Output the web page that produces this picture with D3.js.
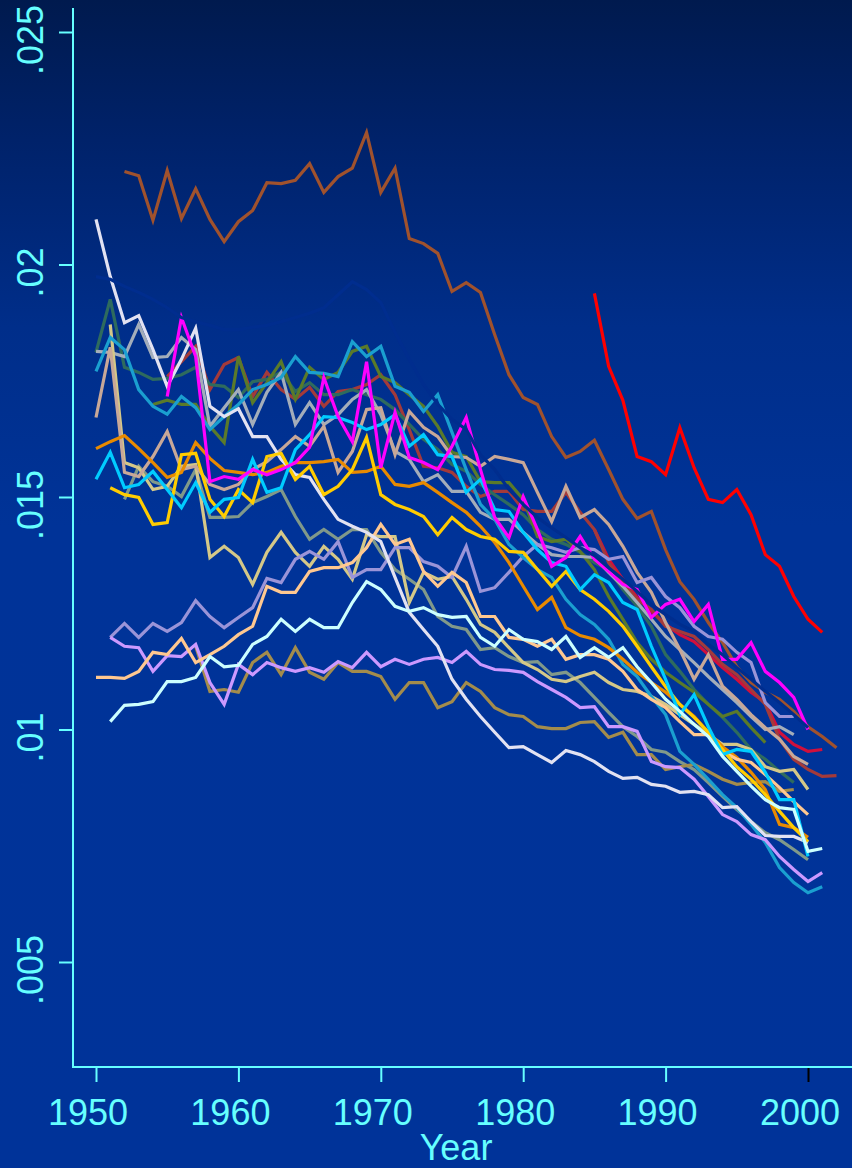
<!DOCTYPE html>
<html>
<head>
<meta charset="utf-8">
<script src="https://cdn.jsdelivr.net/npm/d3@7"></script>
<style>
  html, body { margin: 0; padding: 0; background: #003399; }
  svg { display: block; }
</style>
</head>
<body>
<svg id="chart" width="852" height="1168"></svg>
<script>
// ---- tick values and labels ----
const xTicks = [1950, 1960, 1970, 1980, 1990, 2000];
const yTicks = [0.005, 0.01, 0.015, 0.02, 0.025];
const yTickLabels = [".005", ".01", ".015", ".02", ".025"];

// ---- series: first year, then one value per year ----
const siennaStart = 1952;
const sienna = [
  .02200,.02191,.02095,.02202,.02099,.02163,.02097,.02049,
  .02092,.02116,.02176,.02174,.02181,.02217,.02155,.02189,.02207,.02284,
  .02155,.02207,.02056,.02045,.02024,.01942,.01961,.01940,.01849,.01763,
  .01714,.01699,.01630,.01585,.01598,.01622,.01559,.01495,.01454,.01469,
  .01387,.01318,.01280,.01230,.01187,.01135,.01101,.01080,.01065,.01039,
  .01006,.00985,.00961];

const redStart = 1985;
const red = [.01938,.01781,.01708,.01587,.01576,.01548,.01649,.01563,.01495,.01488,
  .01516,.01462,.01376,.01351,.01286,.01237,.01209];

const lavwhiteStart = 1950;
const lavwhite = [
  .02097,.01974,.01875,.01890,.01817,.01738,.01796,.01863,.01695,.01673,
  .01690,.01630,.01630,.01581,.01548,.01542,.01495,.01452,.01437,.01424,
  .01404,.01327,.01252,.01215,.01179,.01108,.01065,.01028,.00994,.00961,
  .00963,.00946,.00929,.00955,.00946,.00931,.00910,.00895,.00897,.00882,
  .00878,.00865,.00867,.00860,.00832,.00834,.00802,.00772,.00770,.00770,
  .00757];

const tanStart = 1950;
const tan = [
  .01671,.01822,.01553,.01544,.01587,.01641,.01559,.01566,.01527,.01516,
  .01527,.01559,.01576,.01602,.01630,.01609,.01652,.01553,.01598,.01688,
  .01692,.01591,.01684,.01650,.01630,.01587,.01585,.01566,.01587,.01581,
  .01574,.01510,.01447,.01523,.01456,.01473,.01441,.01394,.01338,.01295,
  .01230,.01172,.01108,.01161,.01093,.01065,.01032,.01004,.00979,.00942,
  .00925];

const magentaStart = 1955;
const magenta = [
  .01716,.01886,.01802,.01533,.01544,
  .01538,.01559,.01548,.01559,.01574,.01607,.01757,.01673,.01619,.01791,
  .01563,.01682,.01585,.01574,.01559,.01609,.01671,.01559,.01456,.01413,
  .01501,.01430,.01351,.01370,.01415,.01366,.01340,.01312,.01301,.01241,
  .01269,.01280,.01232,.01269,.01151,.01151,.01187,.01125,.01101,.01069,
  .01000];

const maroonStart = 1955;
const maroon = [
  .01759,.01791,.01824,.01731,.01785,
  .01800,.01716,.01768,.01731,.01710,.01736,.01695,.01727,.01731,.01742,
  .01763,.01720,.01645,.01566,.01563,.01553,.01523,.01501,.01512,.01512,
  .01473,.01469,.01469,.01510,.01467,.01430,.01359,.01316,.01280,.01258,
  .01222,.01211,.01200,.01172,.01140,.01118,.01086,.01054,.00979,.00936,
  .00914,.00899,.00901];

const crimsonStart = 1985;
const crimson = [.01430,.01366,.01323,.01284,.01254,.01226,.01204,.01189,.01161,.01133,
  .01108,.01080,.01058,.00994,.00968,.00953,.00957];

const slateGreenStart = 1950;
const slateGreen = [
  .01811,.01925,.01779,.01768,.01753,.01755,.01763,.01779,.01742,.01738,
  .01714,.01748,.01753,.01768,.01727,.01746,.01720,.01720,.01731,.01720,
  .01710,.01688,.01656,.01624,.01602,.01570,.01555,.01527,.01505,.01484,
  .01462,.01430,.01409,.01398,.01381,.01359,.01344,.01301,.01265,.01222,
  .01161,.01125,.01086,.01054,.01026,.00994,.00957,.00936,.00910,.00886];

const ceruleanStart = 1950;
const cerulean = [
  .01770,.01843,.01817,.01731,.01695,.01678,.01716,.01692,.01645,.01673,
  .01699,.01731,.01742,.01757,.01802,.01768,.01766,.01759,.01834,.01802,
  .01824,.01738,.01725,.01684,.01720,.01639,.01559,.01484,.01452,.01398,
  .01370,.01344,.01327,.01280,.01247,.01226,.01194,.01140,.01114,.01071,
  .01032,.00953,.00925,.00893,.00860,.00832,.00796,.00757,.00703,.00671,
  .00649,.00662];

const orangeStart = 1950;
const orange = [
  .01604,.01619,.01632,.01604,.01574,.01542,.01553,.01617,.01583,.01557,
  .01553,.01548,.01553,.01566,.01574,.01574,.01576,.01581,.01553,.01555,
  .01566,.01527,.01523,.01531,.01510,.01488,.01467,.01437,.01402,.01359,
  .01308,.01258,.01284,.01219,.01202,.01194,.01176,.01151,.01123,.01101,
  .01080,.01054,.01028,.00994,.00963,.00940,.00908,.00871,.00796,.00789,
  .00768];

const goldStart = 1951;
const gold = [
  .01520,.01505,.01499,.01441,.01445,.01591,.01594,.01495,.01458,
  .01516,.01488,.01587,.01594,.01538,.01566,.01505,.01523,.01559,.01628,
  .01505,.01484,.01473,.01458,.01419,.01456,.01430,.01415,.01409,.01383,
  .01381,.01344,.01308,.01340,.01301,.01280,.01254,.01222,.01179,.01135,
  .01092,.01054,.01026,.00994,.00957,.00920,.00893,.00860,.00824,.00789,
  .00759];

const skyStart = 1950;
const sky = [
  .01538,.01596,.01520,.01527,.01555,.01516,.01477,.01531,.01467,.01495,
  .01499,.01581,.01510,.01520,.01602,.01634,.01673,.01671,.01660,.01645,
  .01656,.01677,.01609,.01634,.01591,.01587,.01510,.01538,.01473,.01469,
  .01424,.01387,.01359,.01351,.01301,.01333,.01316,.01273,.01258,.01179,
  .01108,.01032,.01075,.01006,.00946,.00957,.00953,.00908,.00849,.00849,
  .00727];

const peachStart = 1950;
const peach = [
  .01112,.01112,.01110,.01125,.01166,.01161,.01196,.01144,.01161,.01179,
  .01204,.01222,.01308,.01295,.01295,.01340,.01348,.01348,.01359,.01391,
  .01441,.01398,.01409,.01340,.01308,.01338,.01316,.01243,.01243,.01198,
  .01194,.01179,.01194,.01151,.01161,.01161,.01151,.01125,.01086,.01065,
  .01047,.01017,.00989,.00989,.00953,.00936,.00929,.00903,.00875,.00845,
  .00817];

const lightCyanStart = 1951;
const lightCyan = [
  .01017,.01052,.01054,.01060,.01103,.01103,.01112,.01157,.01135,
  .01138,.01183,.01200,.01237,.01211,.01237,.01219,.01219,.01273,.01318,
  .01301,.01265,.01254,.01262,.01247,.01241,.01243,.01198,.01179,.01215,
  .01194,.01189,.01172,.01200,.01155,.01176,.01155,.01176,.01135,.01101,
  .01065,.01039,.01011,.00985,.00942,.00910,.00878,.00849,.00832,.00828,
  .00738,.00744];

const purpleStart = 1951;
const purple = [
  .01198,.01179,.01176,.01125,.01159,.01157,.01183,.01101,.01054,
  .01140,.01118,.01144,.01133,.01125,.01133,.01123,.01146,.01133,.01166,
  .01135,.01151,.01140,.01151,.01155,.01144,.01168,.01140,.01129,.01127,
  .01123,.01103,.01086,.01069,.01047,.01049,.01006,.01006,.00996,.00931,
  .00920,.00918,.00893,.00856,.00817,.00802,.00774,.00763,.00727,.00699,
  .00673,.00692];

const oliveBrownStart = 1957;
const oliveBrown = [
  .01179,.01082,.01086,
  .01080,.01144,.01166,.01118,.01176,.01123,.01108,.01144,.01125,.01125,
  .01114,.01065,.01101,.01101,.01047,.01060,.01101,.01082,.01047,.01032,
  .01028,.01006,.01002,.01002,.01015,.01017,.00983,.00994,.00946,.00946,
  .00914,.00920,.00925,.00910,.00893,.00882,.00886,.00888,.00867,.00871];

const medPurpleStart = 1951;
const medPurple = [
  .01198,.01228,.01198,.01228,.01211,.01230,.01277,.01243,.01219,
  .01241,.01262,.01325,.01316,.01366,.01383,.01366,.01404,.01327,.01344,
  .01344,.01391,.01391,.01361,.01351,.01327,.01394,.01297,.01305,.01338,
  .01372,.01398,.01391,.01381,.01391,.01387,.01366,.01372,.01316,.01327,
  .01286,.01262,.01222,.01200,.01194,.01166,.01144,.01058,.01028,.01028];

const khakiStart = 1951;
const khaki = [
  .01871,.01574,.01563,.01516,.01523,.01566,.01570,.01370,.01394,
  .01370,.01312,.01381,.01424,.01381,.01351,.01394,.01366,.01323,.01419,
  .01415,.01415,.01273,.01338,.01323,.01329,.01280,.01226,.01209,.01176,
  .01144,.01129,.01108,.01103,.01114,.01123,.01101,.01086,.01082,.01071,
  .01054,.01032,.01011,.00989,.00968,.00968,.00957,.00920,.00910,.00914,
  .00871];

const darkOliveStart = 1954;
const darkOlive = [
  .01699,.01708,.01699,.01699,.01652,.01617,
  .01802,.01703,.01746,.01791,.01710,.01779,.01753,.01768,.01813,.01824,
  .01759,.01746,.01720,.01695,.01652,.01596,.01587,.01533,.01531,.01531,
  .01495,.01415,.01404,.01409,.01383,.01344,.01286,.01237,.01187,.01151,
  .01123,.01101,.01080,.01054,.01028,.01039,.01004,.00972];

const greyStart = 1950;
const grey = [
  .01813,.01811,.01802,.01871,.01800,.01802,.01843,.01817,.01652,.01692,
  .01731,.01656,.01725,.01768,.01656,.01703,.01656,.01677,.01710,.01731,
  .01677,.01598,.01581,.01533,.01548,.01512,.01512,.01467,.01452,.01452,
  .01424,.01398,.01376,.01372,.01372,.01370,.01338,.01308,.01273,.01237,
  .01200,.01172,.01144,.01114,.01086,.01058,.01028,.01000,.01006,.00989];

const greyGreenStart = 1952;
const greyGreen = [
  .01495,.01566,.01533,.01523,.01501,.01559,.01456,.01456,
  .01458,.01488,.01501,.01516,.01458,.01409,.01430,.01409,.01430,.01430,
  .01381,.01344,.01323,.01301,.01243,.01222,.01215,.01172,.01176,.01157,
  .01144,.01146,.01118,.01123,.01101,.01069,.01037,.01006,.00985,.00957,
  .00951,.00931,.00914,.00886,.00856,.00828,.00802,.00778,.00763,.00742,
  .00720];

// a series whose pen colour is almost the background blue
const navyStart = 1950;
const navy = [
  .01974,.01968,.01953,.01940,.01925,.01907,.01886,.01877,.01869,.01860,
  .01860,.01865,.01869,.01877,.01886,.01895,.01907,.01935,.01963,.01946,
  .01918,.01854,.01796,.01742,.01699,.01667,.01645,.01591,.01559,.01516,
  .01484,.01456,.01434,.01413,.01391,.01374,.01348,.01323,.01297,.01269,
  .01247,.01226,.01211,.01183,.01161,.01133,.01108,.01082,.01058,.01032,
  .01004];

// ---- drawing order and pen colours ----
const seriesTable = [
  { start: crimsonStart,    values: crimson,    color: "#d0103c" },
  { start: maroonStart,     values: maroon,     color: "#a33a3a" },
  { start: siennaStart,     values: sienna,     color: "#a0522d" },
  { start: slateGreenStart, values: slateGreen, color: "#2e6b5e" },
  { start: darkOliveStart,  values: darkOlive,  color: "#5a7a2a" },
  { start: greyStart,       values: grey,       color: "#a3adba" },
  { start: greyGreenStart,  values: greyGreen,  color: "#80998a" },
  { start: oliveBrownStart, values: oliveBrown, color: "#a38c4c" },
  { start: khakiStart,      values: khaki,      color: "#d4c888" },
  { start: tanStart,        values: tan,        color: "#c8a898" },
  { start: medPurpleStart,  values: medPurple,  color: "#9a94d8" },
  { start: ceruleanStart,   values: cerulean,   color: "#1a9fd0" },
  { start: orangeStart,     values: orange,     color: "#e88a00" },
  { start: purpleStart,     values: purple,     color: "#cc99ff" },
  { start: peachStart,      values: peach,      color: "#ffc890" },
  { start: lavwhiteStart,   values: lavwhite,   color: "#e2e2f2" },
  { start: goldStart,       values: gold,       color: "#ffcc00" },
  { start: skyStart,        values: sky,        color: "#00ccff" },
  { start: lightCyanStart,  values: lightCyan,  color: "#ccffff" },
  { start: magentaStart,    values: magenta,    color: "#ff00ff" },
  { start: navyStart,       values: navy,       color: "#002d8e" },
  { start: redStart,        values: red,        color: "#ff0000" }
];

// ---- canvas ----
const svg = d3.select("#chart");
const W = 852, H = 1168;
const axisColor = "#66ffff";

const defs = svg.append("defs");
const grad = defs.append("linearGradient")
  .attr("id", "bg").attr("x1", 0).attr("y1", 0).attr("x2", 0).attr("y2", 1);
grad.append("stop").attr("offset", "0%").attr("stop-color", "#001a4e");
grad.append("stop").attr("offset", "12%").attr("stop-color", "#00226a");
grad.append("stop").attr("offset", "28%").attr("stop-color", "#002e8a");
grad.append("stop").attr("offset", "45%").attr("stop-color", "#003398");
grad.append("stop").attr("offset", "100%").attr("stop-color", "#003399");
svg.append("rect").attr("width", W).attr("height", H).attr("fill", "url(#bg)");

const x = d3.scaleLinear().domain([1950, 2000]).range([96, 808]);
const y = d3.scaleLinear().domain([0.005, 0.025]).range([962, 32]);

// ---- lines ----
const line = d3.line().x(d => x(d.year)).y(d => y(d.value));
const gLines = svg.append("g").attr("fill", "none");
seriesTable.forEach(s => {
  const pts = s.values.map((v, i) => ({ year: s.start + i, value: v }));
  gLines.append("path")
    .datum(pts)
    .attr("d", line)
    .attr("stroke", s.color)
    .attr("stroke-width", 3.2);
});

// ---- axes ----
const font = "'Liberation Sans', Arial, Helvetica, sans-serif";
const labelShift = 8;   // tick labels sit slightly before their tick

// y axis
const yAxisG = svg.append("g").attr("transform", "translate(73,0)")
  .call(d3.axisLeft(y).tickValues(yTicks).tickSize(14).tickSizeOuter(0).tickFormat(""));
yAxisG.select(".domain").remove();
yAxisG.selectAll(".tick line").attr("stroke", axisColor).attr("stroke-width", 2);
svg.append("line").attr("x1", 73).attr("x2", 73).attr("y1", 8).attr("y2", 1068)
  .attr("stroke", axisColor).attr("stroke-width", 2);
svg.append("g").selectAll("text").data(yTicks).join("text")
  .attr("transform", (d) => `translate(43,${y(d) + labelShift}) rotate(-90)`)
  .attr("text-anchor", "middle")
  .attr("font-family", font).attr("font-size", 36)
  .attr("fill", axisColor)
  .text((d, i) => yTickLabels[i]);

// x axis
const xAxisG = svg.append("g").attr("transform", "translate(0,1067)")
  .call(d3.axisBottom(x).tickValues(xTicks).tickSize(15).tickSizeOuter(0).tickFormat(""));
xAxisG.select(".domain").remove();
xAxisG.selectAll(".tick line")
  .attr("stroke", d => d === 2000 ? "#000000" : axisColor)
  .attr("stroke-width", 2);
svg.append("line").attr("x1", 72).attr("x2", W).attr("y1", 1067).attr("y2", 1067)
  .attr("stroke", axisColor).attr("stroke-width", 2);
svg.append("g").selectAll("text").data(xTicks).join("text")
  .attr("x", d => x(d) - labelShift).attr("y", 1125)
  .attr("text-anchor", "middle")
  .attr("font-family", font).attr("font-size", 36)
  .attr("fill", axisColor)
  .text(d => d);

svg.append("text")
  .attr("x", 456).attr("y", 1160)
  .attr("text-anchor", "middle")
  .attr("font-family", font).attr("font-size", 36)
  .attr("fill", axisColor)
  .text("Year");
</script>
</body>
</html>
